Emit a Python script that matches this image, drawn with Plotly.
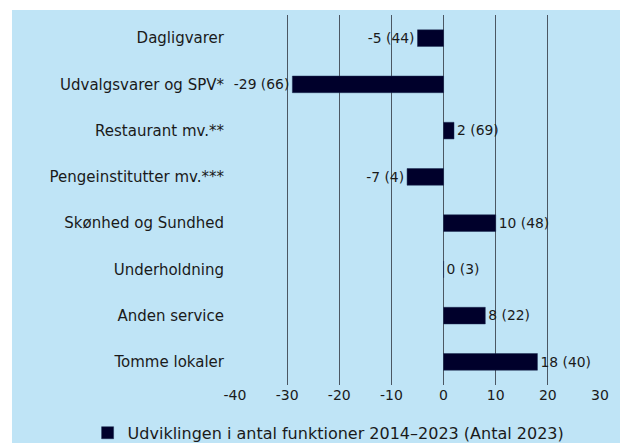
import plotly.graph_objects as go

kategorier = ["Dagligvarer", "Udvalgsvarer og SPV*", "Restaurant mv.**",
              "Pengeinstitutter mv.***", "Skønhed og Sundhed", "Underholdning",
              "Anden service", "Tomme lokaler"]
udvikling = [-5, -29, 2, -7, 10, 0, 8, 18]
antal_2023 = [44, 66, 69, 4, 48, 3, 22, 40]
akse_ticks = [-40, -30, -20, -10, 0, 10, 20, 30]

labels = [f"{u} ({a})" for u, a in zip(udvikling, antal_2023)]

bg = "#bfe4f6"
skrift = "'DejaVu Sans', sans-serif"

fig = go.Figure()
fig.add_trace(go.Bar(
    y=kategorier,
    x=udvikling,
    orientation="h",
    marker=dict(color="#00002b", line=dict(color="#1a2a50", width=0.5)),
    width=0.36,
    text=labels,
    textposition="outside",
    textfont=dict(size=15, color="#1a1a1a", family=skrift),
    cliponaxis=False,
    name="Udviklingen i antal funktioner 2014–2023 (Antal 2023)",
    showlegend=True,
))

# lyseblå baggrund der går ud over plotområdet
fig.add_shape(type="rect", xref="paper", yref="paper",
              x0=-0.611, x1=1.08, y0=-0.2, y1=1.0135,
              fillcolor=bg, line=dict(width=0), layer="below")

fig.update_layout(
    width=620, height=443,
    margin=dict(l=235, r=20, t=15, b=58),
    paper_bgcolor="white",
    plot_bgcolor=bg,
    font=dict(family=skrift, size=15, color="#1a1a1a"),
    xaxis=dict(range=[-40, 30], tickvals=akse_ticks,
               ticktext=[str(t) for t in akse_ticks],
               showgrid=True, gridcolor="#4b5763",
               gridwidth=1, zeroline=True, zerolinecolor="#4b5763", zerolinewidth=1,
               tickfont=dict(size=14), ticks="", showline=False, fixedrange=True,
               automargin=False),
    yaxis=dict(autorange="reversed", showgrid=False, ticks="", ticklabelstandoff=10,
               tickfont=dict(size=15), fixedrange=True, automargin=False),
    legend=dict(orientation="h", xref="container", x=0.53, xanchor="center",
                yref="container", y=0.023, yanchor="middle", font=dict(size=16),
                itemwidth=30, bgcolor="rgba(0,0,0,0)"),
    bargap=0.6,
)

# fjern browserens standard-margin og scrollbars så figuren fylder vinduet
js = ("document.body.style.margin='0';"
      "document.body.style.overflow='hidden';"
      "document.documentElement.style.overflow='hidden';")
fig.write_html("out.html", post_script=js, config={"displayModeBar": False})
